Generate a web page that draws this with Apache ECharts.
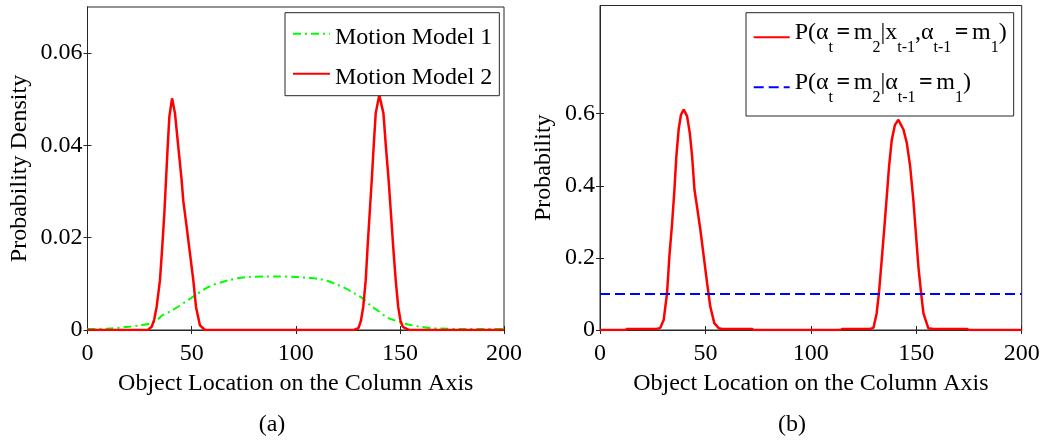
<!DOCTYPE html>
<html>
<head>
<meta charset="utf-8">
<script src="https://cdn.jsdelivr.net/npm/echarts@6/dist/echarts.min.js"></script>
<style>
  html, body { margin: 0; padding: 0; background: #fff; }
  #chart { width: 1051px; height: 442px; }
</style>
</head>
<body>
<div id="chart"></div>
<script>
// Tick positions shown on the axes
const xTicks = [0, 50, 100, 150, 200];
const densityTicks = [0, 0.02, 0.04, 0.06];
const probTicks = [0, 0.2, 0.4, 0.6];

// (a) Motion Model 1: broad prior density
const model1X = [0, 10, 20, 25, 30, 33, 36, 40, 44, 48, 52, 56, 60, 64, 68, 72, 78, 85, 92, 100,
  106, 112, 116, 120, 124, 128, 132, 136, 140, 144, 148, 152, 156, 160, 165, 170, 180, 200];
const model1Y = [0.0002, 0.0003, 0.0007, 0.001, 0.0014, 0.002, 0.0032, 0.0041, 0.0052, 0.0064, 0.0076,
  0.0088, 0.0097, 0.0103, 0.0108, 0.0112, 0.0115, 0.0116, 0.0116, 0.0115, 0.0113, 0.011, 0.0105,
  0.0098, 0.009, 0.008, 0.0069, 0.0053, 0.004, 0.0027, 0.002, 0.0014, 0.001, 0.0007, 0.0004,
  0.0003, 0.0002, 0.0002];

// (a) Motion Model 2: two narrow modes
const model2X = [0, 29, 30.8, 32, 33.2, 34.8, 35.9, 36.9, 37.7, 38.5, 39.3, 40.6, 42.0, 43.6, 45.2,
  46.0, 47.6, 49.2, 50.8, 52.1, 54.0, 56.4, 128, 130.1, 131.3, 132.4, 133.6, 134.5, 135.5, 136.5,
  137.4, 138.4, 140.1, 142.1, 143.3, 144.6, 145.7, 146.8, 148, 149.2, 150.3, 151.4, 154.5, 200];
const model2Y = [0, 0, 0.0007, 0.0022, 0.005, 0.0108, 0.018, 0.0253, 0.0325, 0.0397, 0.0462, 0.0502,
  0.047, 0.0397, 0.0325, 0.028, 0.0224, 0.0166, 0.0108, 0.005, 0.001, 0, 0, 0.0004, 0.002, 0.005,
  0.0108, 0.018, 0.0253, 0.0325, 0.0397, 0.047, 0.0509, 0.047, 0.0397, 0.0325, 0.0253, 0.018,
  0.0108, 0.005, 0.002, 0.0007, 0, 0];

// (b) switching probability given the observation
const switchX = [0, 12, 13, 27, 28.6, 30.2, 31.8, 32.9, 34.2, 35.3, 36.2, 37.3, 38.4, 39.7, 41.3,
  42.6, 43.7, 44.8, 46.0, 47.6, 49.2, 50.8, 52.3, 54.2, 56.3, 58, 72, 73, 114, 115, 128, 129.7,
  131.2, 132.3, 133.6, 134.9, 136.0, 137.1, 138.4, 139.9, 141.5, 143.9, 145.5, 147.1, 148.6, 149.8,
  151.0, 152.3, 153.4, 155.7, 158, 174, 175, 200];
const switchY = [0, 0, 0.003, 0.003, 0.006, 0.028, 0.102, 0.204, 0.296, 0.389, 0.481, 0.556, 0.597,
  0.611, 0.593, 0.546, 0.481, 0.389, 0.343, 0.278, 0.204, 0.13, 0.065, 0.019, 0.005, 0.003, 0.003,
  0, 0, 0.003, 0.003, 0.006, 0.046, 0.102, 0.194, 0.287, 0.37, 0.454, 0.528, 0.569, 0.583, 0.556,
  0.519, 0.454, 0.361, 0.269, 0.176, 0.102, 0.046, 0.005, 0.003, 0.003, 0, 0];

// (b) constant prior switching probability
const priorX = [0, 200];
const priorY = [0.1, 0.1];

const zip = (xs, ys) => xs.map((x, i) => [x, ys[i]]);

const FONT = "'Liberation Serif', 'Times New Roman', serif";
const AXIS_COLOR = '#262626';

const NAME_M1 = 'Motion Model 1';
const NAME_M2 = 'Motion Model 2';
const NAME_SW = 'P(at=m2|xt-1,at-1=m1)';
const NAME_PR = 'P(at=m2|at-1=m1)';

// rich-text labels with subscripts for the (b) legend
const legendRich = {};
legendRich[NAME_SW] = '{m|P(α}{s|t}{e|=}{m|m}{s|2}{m||x}{s|t-1}{m|,α}{s|t-1}{e|=}{m|m}{s|1}{m|)}';
legendRich[NAME_PR] = '{m|P(α}{s|t}{e|=}{m|m}{s|2}{m||α}{s|t-1}{e|=}{m|m}{s|1}{m|)}';

function xAxisPair(gridIndex) {
  const base = {
    type: 'value', gridIndex, min: 0, max: 200, interval: 50,
    axisLine: { show: true, lineStyle: { color: AXIS_COLOR, width: 1 } },
    axisTick: { show: true, inside: true, length: 4, lineStyle: { color: AXIS_COLOR } },
    splitLine: { show: false }
  };
  return [
    Object.assign({}, base, {
      position: 'bottom',
      axisLabel: {
        color: '#000', fontFamily: FONT, fontSize: 24, margin: 12,
        customValues: xTicks, formatter: v => String(v)
      },
      axisTick: Object.assign({}, base.axisTick, { customValues: xTicks }),
      name: 'Object Location on the Column Axis',
      nameLocation: 'middle', nameGap: 42,
      nameTextStyle: { color: '#000', fontFamily: FONT, fontSize: 24 }
    }),
    Object.assign({}, base, {
      position: 'top',
      axisLabel: { show: false },
      axisTick: Object.assign({}, base.axisTick, { customValues: xTicks })
    })
  ];
}

function yAxisPair(gridIndex, max, interval, ticks, title, gap) {
  const base = {
    type: 'value', gridIndex, min: 0, max, interval,
    axisLine: { show: true, lineStyle: { color: AXIS_COLOR, width: 1 } },
    axisTick: { show: true, inside: true, length: 4, customValues: ticks, lineStyle: { color: AXIS_COLOR } },
    splitLine: { show: false }
  };
  return [
    Object.assign({}, base, {
      position: 'left',
      axisLabel: {
        color: '#000', fontFamily: FONT, fontSize: 24, margin: 5,
        customValues: ticks, formatter: v => (v === 0 ? '0' : String(v))
      },
      name: title, nameLocation: 'middle', nameGap: gap, nameRotate: 90,
      nameTextStyle: { color: '#000', fontFamily: FONT, fontSize: 24 }
    }),
    Object.assign({}, base, {
      position: 'right',
      axisLabel: { show: false }
    })
  ];
}

const chart = echarts.init(document.getElementById('chart'), null, { renderer: 'canvas' });

chart.setOption({
  backgroundColor: '#fff',
  animation: false,
  grid: [
    { left: 87.5, top: 7, width: 416.5, height: 323, show: true, borderColor: AXIS_COLOR, borderWidth: 1, backgroundColor: 'transparent' },
    { left: 600, top: 5.5, width: 421.7, height: 324.5, show: true, borderColor: AXIS_COLOR, borderWidth: 1, backgroundColor: 'transparent' }
  ],
  xAxis: [...xAxisPair(0), ...xAxisPair(1)],
  yAxis: [
    ...yAxisPair(0, 0.07, 0.01, densityTicks, 'Probability Density', 56),
    ...yAxisPair(1, 0.9, 0.1, probTicks, 'Probability', 44)
  ],
  legend: [
    {
      data: [NAME_M1, NAME_M2],
      left: 285, top: 12.7,
      orient: 'vertical',
      itemWidth: 37, itemHeight: 14, itemGap: 8,
      padding: [5, 7, 6, 7],
      backgroundColor: '#fff', borderColor: AXIS_COLOR, borderWidth: 1, borderRadius: 0,
      selectedMode: false,
      itemStyle: { opacity: 0 },
      formatter: name => '{a|' + name + '}',
      textStyle: {
        color: '#000', fontFamily: FONT, fontSize: 24,
        rich: { a: { fontFamily: FONT, fontSize: 24, lineHeight: 30, padding: [8, 0, 0, 0] } }
      }
    },
    {
      data: [NAME_SW, NAME_PR],
      left: 746, top: 12.7,
      orient: 'vertical',
      itemWidth: 36, itemHeight: 14, itemGap: 14,
      padding: [6.6, 7, 10.7, 6.7],
      backgroundColor: '#fff', borderColor: AXIS_COLOR, borderWidth: 1, borderRadius: 0,
      selectedMode: false,
      itemStyle: { opacity: 0 },
      formatter: name => legendRich[name],
      textStyle: {
        color: '#000', fontFamily: FONT, fontSize: 24,
        rich: {
          m: { fontFamily: FONT, fontSize: 24, lineHeight: 36, padding: [0, 0, 10, 0] },
          e: { fontFamily: FONT, fontSize: 24, fontWeight: 'bold', lineHeight: 36, padding: [0, 3.5, 10, 3.5] },
          s: { fontFamily: FONT, fontSize: 16, lineHeight: 36, padding: [20, 0, 0, 0] }
        }
      }
    }
  ],
  graphic: [
    { type: 'text', x: 272, y: 425, style: { text: '(a)', align: 'center', verticalAlign: 'middle', font: '24px ' + FONT, fill: '#000' } },
    { type: 'text', x: 792, y: 425, style: { text: '(b)', align: 'center', verticalAlign: 'middle', font: '24px ' + FONT, fill: '#000' } }
  ],
  series: [
    {
      name: NAME_M1, type: 'line', xAxisIndex: 0, yAxisIndex: 0,
      data: zip(model1X, model1Y), showSymbol: false, symbol: 'none', smooth: 0.3,
      lineStyle: { color: '#00ff00', width: 2, type: [8, 4, 2, 4] },
      itemStyle: { color: '#00ff00' }, z: 2
    },
    {
      name: NAME_M2, type: 'line', xAxisIndex: 0, yAxisIndex: 0,
      data: zip(model2X, model2Y), showSymbol: false, symbol: 'none',
      lineStyle: { color: '#ff0000', width: 2.5 },
      itemStyle: { color: '#ff0000' }, z: 3
    },
    {
      name: NAME_SW, type: 'line', xAxisIndex: 2, yAxisIndex: 2,
      data: zip(switchX, switchY), showSymbol: false, symbol: 'none',
      lineStyle: { color: '#ff0000', width: 2.5 },
      itemStyle: { color: '#ff0000' }, z: 2
    },
    {
      name: NAME_PR, type: 'line', xAxisIndex: 2, yAxisIndex: 2,
      data: zip(priorX, priorY), showSymbol: false, symbol: 'none',
      lineStyle: { color: '#0000ff', width: 2, type: [10, 5] },
      itemStyle: { color: '#0000ff' }, z: 3
    }
  ]
});
</script>
</body>
</html>
